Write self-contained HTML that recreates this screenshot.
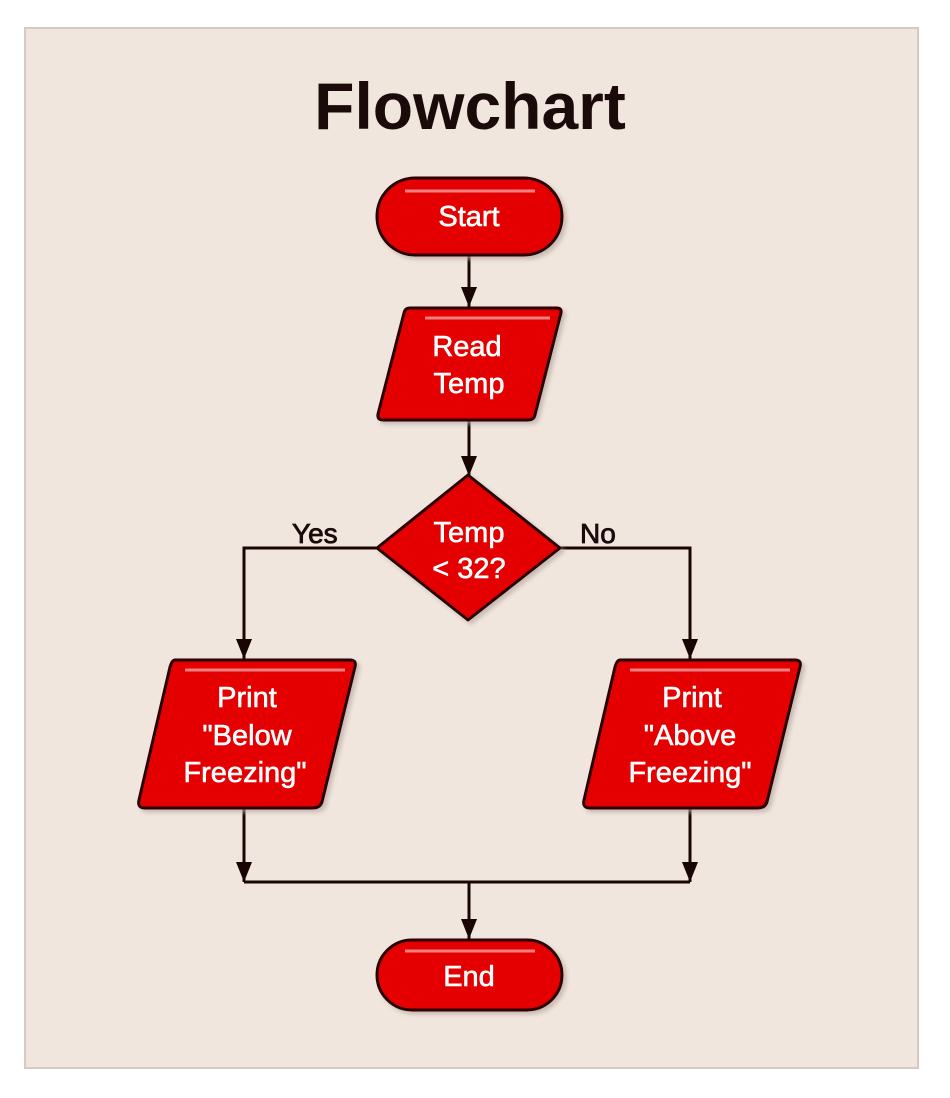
<!DOCTYPE html>
<html><head><meta charset="utf-8"><style>
body{margin:0;background:#fff;}
svg{display:block}
text{font-family:"Liberation Sans",sans-serif;}
</style></head><body>
<svg width="950" height="1098" viewBox="0 0 950 1098">
<defs>
<marker id="a" markerWidth="20" markerHeight="16" refX="20" refY="8" orient="auto" markerUnits="userSpaceOnUse" viewBox="0 0 20 16">
<path d="M0,0 L20,8 L0,16 Z" fill="#1a0505"/></marker>
<filter id="s" x="-10%" y="-10%" width="130%" height="130%"><feDropShadow dx="3" dy="3" stdDeviation="2" flood-color="#b8a8a0" flood-opacity="0.7"/></filter>
</defs>
<rect x="25" y="28" width="893" height="1040" fill="#f0e6dd" stroke="#d8c8bf" stroke-width="2"/>
<text x="470" y="129" font-size="66" font-weight="bold" text-anchor="middle" fill="#1a0a0a">Flowchart</text>
<g stroke="#1a0505" stroke-width="3" fill="none">
<line x1="469" y1="255" x2="469" y2="307" marker-end="url(#a)"/>
<line x1="469" y1="420" x2="469" y2="476" marker-end="url(#a)"/>
<polyline points="377,548 244,548 244,659" marker-end="url(#a)"/>
<polyline points="560,548 690,548 690,659" marker-end="url(#a)"/>
<line x1="244" y1="808" x2="244" y2="882" marker-end="url(#a)"/>
<line x1="690" y1="808" x2="690" y2="882" marker-end="url(#a)"/>
<line x1="244" y1="882" x2="690" y2="882"/>
<line x1="469" y1="882" x2="469" y2="939" marker-end="url(#a)"/>
</g>
<g fill="#e40404" stroke="#2a0505" stroke-width="3" filter="url(#s)" stroke-linejoin="round">
<rect x="377" y="178" width="185" height="77" rx="38"/>
<path d="M410,308 L557,308 Q562,308 561,313 L535,415 Q534,420 528,420 L383,420 Q377,420 378,414 L404,313 Q405,308 410,308 Z"/>
<path d="M468,475 L560,548 L468,620 L377,548 Z"/>
<path d="M175,660 L350,660 Q357,660 355,667 L322,802 Q320,808 313,808 L145,808 Q137,808 139,800 L170,667 Q172,660 175,660 Z"/>
<path d="M620,660 L795,660 Q802,660 800,667 L767,802 Q765,808 758,808 L590,808 Q582,808 584,800 L615,667 Q617,660 620,660 Z"/>
<rect x="377" y="940" width="185" height="70" rx="35"/>
</g>
<g stroke="#f6a0a0" stroke-width="3" opacity="0.8">
<line x1="405" y1="191" x2="535" y2="191"/>
<line x1="425" y1="318" x2="550" y2="318"/>
<line x1="185" y1="670" x2="345" y2="670"/>
<line x1="630" y1="670" x2="790" y2="670"/>
<line x1="405" y1="951" x2="535" y2="951"/>
</g>
<g fill="#fff" font-size="29" text-anchor="middle" stroke="#fff" stroke-width="0.6">
<text x="469" y="226">Start</text>
<text x="467" y="356">Read</text>
<text x="469" y="393">Temp</text>
<text x="469" y="542">Temp</text>
<text x="469" y="578">&lt; 32?</text>
<text x="247" y="707">Print</text>
<text x="247" y="745">"Below</text>
<text x="245" y="782">Freezing"</text>
<text x="692" y="707">Print</text>
<text x="690" y="745">"Above</text>
<text x="690" y="782">Freezing"</text>
<text x="469" y="986">End</text>
</g>
<g fill="#1a0a0a" font-size="28" stroke="#1a0a0a" stroke-width="0.8">
<text x="292" y="543">Yes</text>
<text x="580" y="543">No</text>
</g>
</svg>
</body></html>
